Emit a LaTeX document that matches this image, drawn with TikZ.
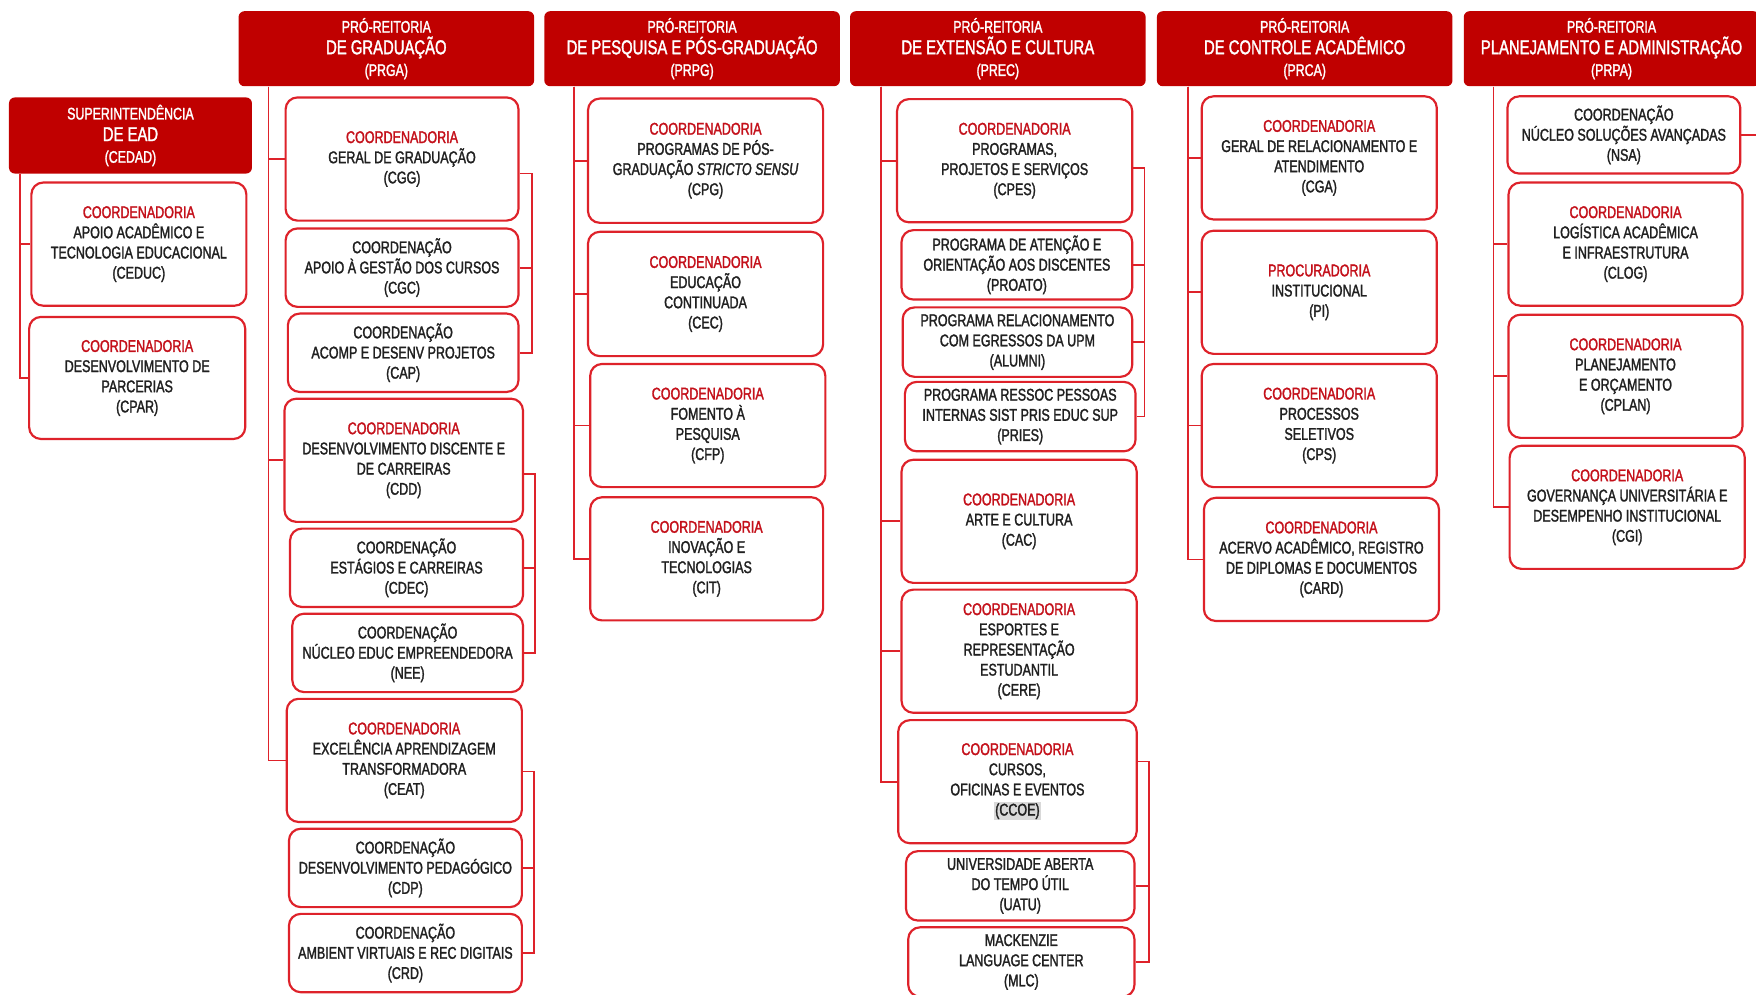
\documentclass[tikz,border=0pt]{standalone}
\usepackage{fontspec}
\setmainfont{Liberation Sans}[FakeStretch=0.74, FakeBold=1.6]
\usepackage{tikz}

\definecolor{hdred}{RGB}{192,0,0}
\definecolor{boxred}{RGB}{222,34,42}
\definecolor{titred}{RGB}{196,16,26}
\definecolor{txtgray}{RGB}{32,32,32}
\newcommand{\rtit}[1]{\textcolor{titred}{#1}}
\newcommand{\hbig}[1]{{\fontsize{10.2}{11}\selectfont #1}}

\begin{document}
\begin{tikzpicture}[x=0.02cm, y=-0.02cm,
  head/.style={fill=hdred, rounded corners=3pt, text=white, align=center, inner sep=0pt,
    minimum width=5.28cm, minimum height=1.34cm, font=\fontsize{8.5}{11}\selectfont},
  unit/.style={draw=boxred, line width=1.1pt, fill=white, rounded corners=6pt, align=center,
    inner sep=0pt, text=txtgray, font=\fontsize{8.6}{10.25}\selectfont},
  big/.style={unit, minimum width=4.2cm, minimum height=2.2cm},
  small/.style={unit, minimum width=4.16cm, minimum height=1.4cm},
  thin/.style={unit, minimum width=4.12cm, minimum height=1.24cm},
  link/.style={draw=boxred, line width=0.9pt}]
  \useasboundingbox (0,0) rectangle (1568,888);

  % Superintendencia EAD
  \node[head, minimum width=4.34cm, minimum height=1.36cm] (cedad) at (116.5,121) {SUPERINTENDÊNCIA\\ \hbig{DE EAD}\\ (CEDAD)};
  \node[big, minimum width=3.84cm] (ceduc) at (124,218) {\rtit{COORDENADORIA}\\ APOIO ACADÊMICO E\\ TECNOLOGIA EDUCACIONAL\\ (CEDUC)};
  \node[big, minimum width=3.86cm, minimum height=2.18cm] (cpar) at (122.5,337.5) {\rtit{COORDENADORIA}\\ DESENVOLVIMENTO DE\\ PARCERIAS\\ (CPAR)};

  % PRGA
  \node[head] (prga) at (345,43.5) {PRÓ-REITORIA\\ \hbig{DE GRADUAÇÃO}\\ (PRGA)};
  \node[big, minimum width=4.16cm] (cgg) at (359,142) {\rtit{COORDENADORIA}\\ GERAL DE GRADUAÇÃO\\ (CGG)};
  \node[small] (cgc) at (359,239) {COORDENAÇÃO\\ APOIO À GESTÃO DOS CURSOS\\ (CGC)};
  \node[small, minimum width=4.12cm] (cap) at (360,315) {COORDENAÇÃO\\ ACOMP E DESENV PROJETOS\\ (CAP)};
  \node[big, minimum width=4.26cm] (cdd) at (360.5,411) {\rtit{COORDENADORIA}\\ DESENVOLVIMENTO DISCENTE E\\ DE CARREIRAS\\ (CDD)};
  \node[small] (cdec) at (363,507) {COORDENAÇÃO\\ ESTÁGIOS E CARREIRAS\\ (CDEC)};
  \node[small, minimum width=4.12cm] (nee) at (364,583) {COORDENAÇÃO\\ NÚCLEO EDUC EMPREENDEDORA\\ (NEE)};
  \node[big] (ceat) at (361,679) {\rtit{COORDENADORIA}\\ EXCELÊNCIA APRENDIZAGEM\\ TRANSFORMADORA\\ (CEAT)};
  \node[small] (cdp) at (362,775) {COORDENAÇÃO\\ DESENVOLVIMENTO PEDAGÓGICO\\ (CDP)};
  \node[small] (crd) at (362,851) {COORDENAÇÃO\\ AMBIENT VIRTUAIS E REC DIGITAIS\\ (CRD)};

  % PRPG
  \node[head] (prpg) at (618,43.5) {PRÓ-REITORIA\\ \hbig{DE PESQUISA E PÓS-GRADUAÇÃO}\\ (PRPG)};
  \node[big, minimum height=2.22cm] (cpg) at (630,143.5) {\rtit{COORDENADORIA}\\ PROGRAMAS DE PÓS-\\ GRADUAÇÃO \textit{STRICTO SENSU}\\ (CPG)};
  \node[big, minimum height=2.22cm] (cec) at (630,262.5) {\rtit{COORDENADORIA}\\ EDUCAÇÃO\\ CONTINUADA\\ (CEC)};
  \node[big] (cfp) at (632,380) {\rtit{COORDENADORIA}\\ FOMENTO À\\ PESQUISA\\ (CFP)};
  \node[big, minimum width=4.16cm] (cit) at (631,499) {\rtit{COORDENADORIA}\\ INOVAÇÃO E\\ TECNOLOGIAS\\ (CIT)};

  % PREC
  \node[head] (prec) at (891,43.5) {PRÓ-REITORIA\\ \hbig{DE EXTENSÃO E CULTURA}\\ (PREC)};
  \node[big] (cpes) at (906,143.5) {\rtit{COORDENADORIA}\\ PROGRAMAS,\\ PROJETOS E SERVIÇOS\\ (CPES)};
  \node[thin] (proato) at (908,236.5) {PROGRAMA DE ATENÇÃO E\\ ORIENTAÇÃO AOS DISCENTES\\ (PROATO)};
  \node[thin, minimum width=4.1cm] (alumni) at (908.5,305.5) {PROGRAMA RELACIONAMENTO\\ COM EGRESSOS DA UPM\\ (ALUMNI)};
  \node[thin] (pries) at (911,372) {PROGRAMA RESSOC PESSOAS\\ INTERNAS SIST PRIS EDUC SUP\\ (PRIES)};
  \node[big] (cac) at (910,465.5) {\rtit{COORDENADORIA}\\ ARTE E CULTURA\\ (CAC)};
  \node[big] (cere) at (910,581.5) {\rtit{COORDENADORIA}\\ ESPORTES E\\ REPRESENTAÇÃO\\ ESTUDANTIL\\ (CERE)};
  \node[big, minimum width=4.26cm] (ccoe) at (908.5,698) {\rtit{COORDENADORIA}\\ CURSOS,\\ OFICINAS E EVENTOS\\ {\setlength{\fboxsep}{0.6pt}\colorbox{black!15}{(CCOE)}}};
  \node[thin, minimum width=4.08cm] (uatu) at (911,791) {UNIVERSIDADE ABERTA\\ DO TEMPO ÚTIL\\ (UATU)};
  \node[thin, minimum width=4.04cm] (mlc) at (912,859) {MACKENZIE\\ LANGUAGE CENTER\\ (MLC)};

  % PRCA
  \node[head] (prca) at (1165,43.5) {PRÓ-REITORIA\\ \hbig{DE CONTROLE ACADÊMICO}\\ (PRCA)};
  \node[big] (cga) at (1178,141) {\rtit{COORDENADORIA}\\ GERAL DE RELACIONAMENTO E\\ ATENDIMENTO\\ (CGA)};
  \node[big] (pi) at (1178,261) {\rtit{PROCURADORIA}\\ INSTITUCIONAL\\ (PI)};
  \node[big] (cps) at (1178,380) {\rtit{COORDENADORIA}\\ PROCESSOS\\ SELETIVOS\\ (CPS)};
  \node[big] (card) at (1180,499.5) {\rtit{COORDENADORIA}\\ ACERVO ACADÊMICO, REGISTRO\\ DE DIPLOMAS E DOCUMENTOS\\ (CARD)};

  % PRPA
  \node[head] (prpa) at (1439,43.5) {PRÓ-REITORIA\\ \hbig{PLANEJAMENTO E ADMINISTRAÇÃO}\\ (PRPA)};
  \node[small, minimum height=1.38cm] (nsa) at (1450,120.5) {COORDENAÇÃO\\ NÚCLEO SOLUÇÕES AVANÇADAS\\ (NSA)};
  \node[big, minimum width=4.18cm] (clog) at (1451.5,218) {\rtit{COORDENADORIA}\\ LOGÍSTICA ACADÊMICA\\ E INFRAESTRUTURA\\ (CLOG)};
  \node[big, minimum width=4.18cm] (cplan) at (1451.5,336) {\rtit{COORDENADORIA}\\ PLANEJAMENTO\\ E ORÇAMENTO\\ (CPLAN)};
  \node[big] (cgi) at (1453,453) {\rtit{COORDENADORIA}\\ GOVERNANÇA UNIVERSITÁRIA E\\ DESEMPENHO INSTITUCIONAL\\ (CGI)};

  % trunks
  \path (cedad.south west) ++(10,0) coordinate (tEAD);
  \path (prga.south west) ++(27,0) coordinate (tPRGA);
  \path (prpg.south west) ++(27,0) coordinate (tPRPG);
  \path (prec.south west) ++(28,0) coordinate (tPREC);
  \path (prca.south west) ++(28,0) coordinate (tPRCA);
  \path (prpa.south west) ++(27,0) coordinate (tPRPA);
  \foreach \b in {ceduc,cpar} \draw[link] (tEAD) |- (\b.west);
  \foreach \b in {cgg,cdd,ceat} \draw[link] (tPRGA) |- (\b.west);
  \foreach \b in {cpg,cec,cfp,cit} \draw[link] (tPRPG) |- (\b.west);
  \foreach \b in {cpes,cac,cere,ccoe} \draw[link] (tPREC) |- (\b.west);
  \foreach \b in {cga,pi,cps,card} \draw[link] (tPRCA) |- (\b.west);
  \foreach \b in {clog,cplan,cgi} \draw[link] (tPRPA) |- (\b.west);

  % brackets on the right
  \draw[link] ([yshift=-0.26cm]cgg.east) -- ++(11,0) coordinate (bCGG) |- (cap.east);
  \draw[link] (cgc.east) -- (cgc.east -| bCGG);
  \draw[link] ([yshift=-0.24cm]cdd.east) -- ++(10,0) coordinate (bCDD) |- (nee.east);
  \draw[link] (cdec.east) -- (cdec.east -| bCDD);
  \draw[link] ([yshift=-0.2cm]ceat.east) -- ++(10,0) coordinate (bCEAT) |- (crd.east);
  \draw[link] (cdp.east) -- (cdp.east -| bCEAT);
  \draw[link] ([yshift=-0.13cm]cpes.east) -- ++(10,0) coordinate (bCPES) |- (pries.east);
  \foreach \b in {proato,alumni} \draw[link] (\b.east) -- (\b.east -| bCPES);
  \draw[link] ([yshift=0.36cm]ccoe.east) -- ++(10,0) coordinate (bCCOE) |- (mlc.east);
  \draw[link] (uatu.east) -- (uatu.east -| bCCOE);
  \draw[link] (nsa.east) -- ++(20,0) coordinate (nsaout);
\end{tikzpicture}
\end{document}
